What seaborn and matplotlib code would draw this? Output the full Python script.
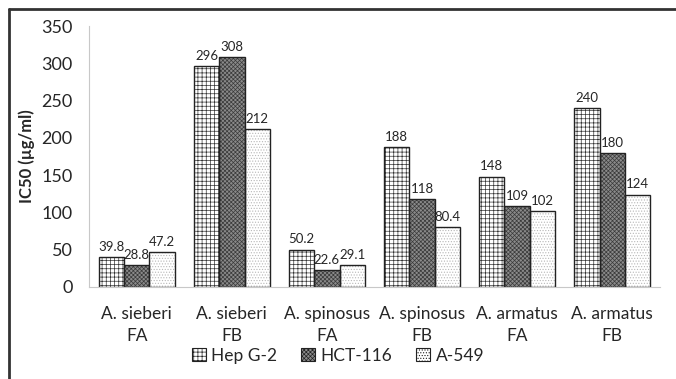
import matplotlib
matplotlib.use("Agg")
import matplotlib.pyplot as plt
import seaborn as sns
import pandas as pd
from matplotlib.patches import Rectangle
from matplotlib.lines import Line2D

categories = ["A. sieberi\nFA", "A. sieberi\nFB", "A. spinosus\nFA",
              "A. spinosus\nFB", "A. armatus\nFA", "A. armatus\nFB"]
cell_lines = ["Hep G-2", "HCT-116", "A-549"]
hep_g2 = [39.8, 296, 50.2, 188, 148, 240]
hct_116 = [28.8, 308, 22.6, 118, 109, 180]
a_549 = [47.2, 212, 29.1, 80.4, 102, 124]

df = pd.DataFrame({
    "cat": categories * 3,
    "line": [c for c in cell_lines for _ in categories],
    "ic50": hep_g2 + hct_116 + a_549,
})

sns.set_style("white")
plt.rcParams["font.family"] = ["Lato", "DejaVu Sans"]
plt.rcParams["hatch.linewidth"] = 0.5

fig = plt.figure(figsize=(6.76, 3.79), dpi=100)
ax = fig.add_axes([0.132, 0.243, 0.844, 0.688])

sns.barplot(data=df, x="cat", y="ic50", hue="line", order=categories,
            hue_order=cell_lines, width=0.8, gap=0, ax=ax, legend=False)

styles = [
    dict(face="white", hatch="++++", hcol="#333333"),
    dict(face="#8a8a8a", hatch="xxxxxxxx", hcol="#3a3a3a"),
    dict(face="white", hatch="......", hcol="#b8b8b8"),
]
vals = [hep_g2, hct_116, a_549]
for cont, st, v in zip(ax.containers, styles, vals):
    for bar in cont:
        bar.set_facecolor(st["face"])
        bar.set_edgecolor(st["hcol"])
        bar.set_hatch(st["hatch"])
        bar.set_linewidth(0)
        ax.add_patch(Rectangle(bar.get_xy(), bar.get_width(), bar.get_height(),
                               fill=False, edgecolor="#222222", linewidth=1.0))
    ax.bar_label(cont, labels=[f"{x:g}" for x in v], padding=3, fontsize=9.5)

ax.set_ylim(0, 350)
ax.set_yticks(range(0, 351, 50))
ax.set_xlim(-0.5, 5.5)
ax.set_xlabel("")
ax.set_ylabel("IC50 (µg/ml)", fontsize=12, fontweight="bold")
ax.yaxis.set_label_coords(-0.095, 0.5)
ax.tick_params(axis="y", labelsize=13, length=0, pad=12)
ax.tick_params(axis="x", labelsize=12.5, length=0, pad=14)
for t in ax.get_xticklabels():
    t.set_linespacing(1.45)
for s in ["top", "right"]:
    ax.spines[s].set_visible(False)
ax.spines["left"].set_color("#c8c8c8")
ax.spines["bottom"].set_color("#c8c8c8")
ax.spines["left"].set_linewidth(0.8)
ax.spines["bottom"].set_linewidth(0.8)

handles = []
for st in styles:
    handles.append(Rectangle((0, 0), 1, 1, facecolor=st["face"], hatch=st["hatch"],
                             edgecolor="#222222", linewidth=0.8))
fig.legend(handles, cell_lines, loc="center", bbox_to_anchor=(0.50, 0.062),
           ncol=3, frameon=False, fontsize=12.5, handlelength=0.8, handleheight=0.8,
           handletextpad=0.3, columnspacing=1.4)

fig.add_artist(Line2D([0.014, 0.014], [0.0, 0.976], transform=fig.transFigure,
                      color="#333333", linewidth=2))
fig.add_artist(Line2D([0.014, 1.0], [0.976, 0.976], transform=fig.transFigure,
                      color="#333333", linewidth=2))

fig.savefig("out.png", dpi=100)
